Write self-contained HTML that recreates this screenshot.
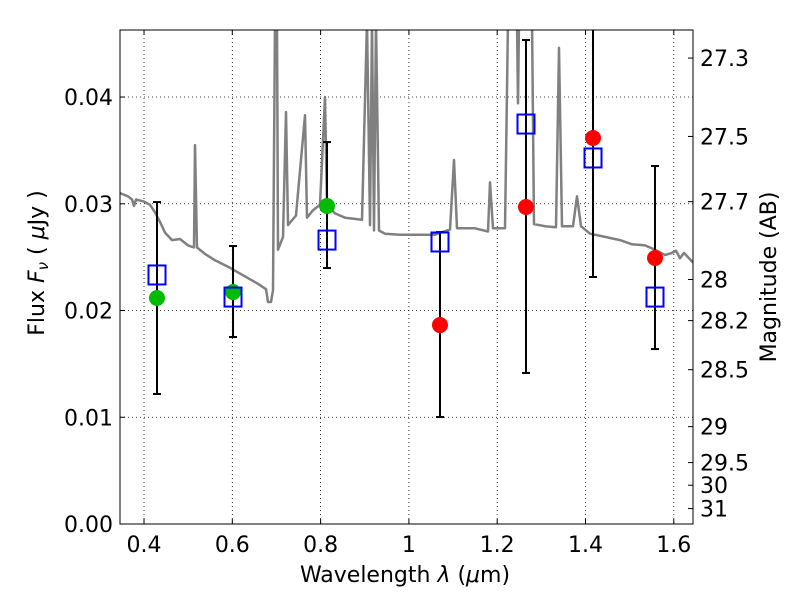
<!DOCTYPE html>
<html><head><meta charset="utf-8"><style>
body{margin:0;background:#fff}
svg text{font-family:"DejaVu Sans","Liberation Sans",sans-serif;fill:#000}
</style></head><body>
<svg id="c" width="800" height="600" xmlns="http://www.w3.org/2000/svg">
<defs><clipPath id="clip"><rect x="120" y="30" width="573" height="494"/></clipPath></defs>
<g id="grid"></g>
<g id="spec" clip-path="url(#clip)"></g>
<g id="marks" clip-path="url(#clip)"></g>
<rect x="120" y="30" width="573" height="494" fill="none" stroke="#000" stroke-width="1"/>
<g id="axes"></g>
<text x="405" y="582" font-size="22" text-anchor="middle">Wavelength  <tspan font-style="italic">λ</tspan> (<tspan font-style="italic">μ</tspan>m)</text>
<text transform="translate(44,263) rotate(-90)" font-size="22" text-anchor="middle">Flux  <tspan font-style="italic">F</tspan><tspan font-style="italic" font-size="15" dy="4">ν</tspan><tspan dy="-4">  (  </tspan><tspan font-style="italic">μ</tspan>Jy )</text>
<text transform="translate(776,277) rotate(-90)" font-size="22" text-anchor="middle">Magnitude (AB)</text>
</svg>
<script>
const specWave=[0.3456,0.3638,0.3728,0.3773,0.3819,0.4000,0.4136,0.4249,0.4362,0.4476,0.4634,0.4815,0.4997,0.5132,0.5155,0.5200,0.5382,0.5608,0.5948,0.6288,0.6582,0.6763,0.6809,0.6877,0.6922,0.6967,0.7012,0.7035,0.7148,0.7216,0.7262,0.7443,0.7647,0.7692,0.7828,0.7986,0.8100,0.8145,0.8326,0.8553,0.8938,0.9051,0.9119,0.9164,0.9210,0.9255,0.9323,0.9459,0.9799,1.0138,1.0591,1.0931,1.1022,1.1089,1.1497,1.1792,1.1837,1.1905,1.2177,1.2245,1.2449,1.2471,1.2494,1.2788,1.2833,1.3082,1.3332,1.3400,1.3467,1.3716,1.3807,1.3898,1.4102,1.4442,1.4781,1.5053,1.5348,1.5574,1.5801,1.5960,1.6050,1.6141,1.6232,1.6435];
const specFlux=[0.0310,0.0307,0.0304,0.0298,0.0304,0.0302,0.0299,0.0292,0.0283,0.0273,0.0266,0.0267,0.0261,0.0259,0.0355,0.0259,0.0253,0.0247,0.0240,0.0232,0.0225,0.0220,0.0208,0.0208,0.0219,0.0472,0.0472,0.0257,0.0269,0.0386,0.0280,0.0289,0.0383,0.0287,0.0294,0.0299,0.0400,0.0299,0.0291,0.0287,0.0285,0.0472,0.0280,0.0472,0.0275,0.0472,0.0275,0.0272,0.0271,0.0271,0.0271,0.0276,0.0341,0.0277,0.0277,0.0274,0.0320,0.0277,0.0277,0.0472,0.0472,0.0394,0.0472,0.0472,0.0281,0.0279,0.0278,0.0446,0.0279,0.0279,0.0307,0.0279,0.0272,0.0269,0.0266,0.0262,0.0261,0.0257,0.0252,0.0254,0.0256,0.0249,0.0254,0.0245];
const bandWave=[0.4294,0.6016,0.8145,1.0704,1.2652,1.4170,1.5574];
const obsFlux=[0.02117,0.02173,0.02979,0.01864,0.02970,0.03616,0.02492];
const obsColor=['#00bb00','#00bb00','#00bb00','#ff0000','#ff0000','#ff0000','#ff0000'];
const errLo=[0.01218,0.01752,0.02398,0.01002,0.01415,0.02314,0.01639];
const errHi=[0.03016,0.02604,0.03578,0.02735,0.04534,0.0500,0.03354];
const modelFlux=[0.02333,0.02126,0.02660,0.02642,0.03747,0.03429,0.02126];
const xTicks=[0.4,0.6,0.8,1.0,1.2,1.4,1.6];
const xTickLabels=['0.4','0.6','0.8','1','1.2','1.4','1.6'];
const yTicks=[0,0.01,0.02,0.03,0.04];
const yTickLabels=['0.00','0.01','0.02','0.03','0.04'];
const magTicks=[27.3,27.5,27.7,28,28.2,28.5,29,29.5,30,31];

const X0=120,X1=693,Y0=524,Y1=30,xmin=0.3456,xmax=1.6435,ymin=0,ymax=0.04628;
const sx=v=>X0+(v-xmin)/(xmax-xmin)*(X1-X0);
const sy=v=>Y0-(v-ymin)/(ymax-ymin)*(Y0-Y1);
const NS='http://www.w3.org/2000/svg';
function mk(tag,attrs,parent){const e=document.createElementNS(NS,tag);for(const k in attrs)e.setAttribute(k,attrs[k]);parent.appendChild(e);return e;}
const grid=document.getElementById('grid'),axes=document.getElementById('axes'),spec=document.getElementById('spec'),marks=document.getElementById('marks');

xTicks.forEach((t,i)=>{const x=sx(t);
 const g=mk('line',{x1:x,x2:x,y1:Y1,y2:Y0,stroke:'#000','stroke-width':0.8,'stroke-dasharray':'1,3'},grid);
 
 
 mk('line',{x1:x,x2:x,y1:Y0,y2:Y0-5,stroke:'#000'},axes);
 mk('line',{x1:x,x2:x,y1:Y1,y2:Y1+5,stroke:'#000'},axes);
 const l=mk('text',{x:x,y:Y0+28,'font-size':22,'text-anchor':'middle'},axes);l.textContent=xTickLabels[i];
 
 
});
yTicks.forEach((t,i)=>{const y=sy(t);
 const g=mk('line',{x1:X0,x2:X1,y1:y,y2:y,stroke:'#000','stroke-width':0.8,'stroke-dasharray':'1,3'},grid);
 
 
 mk('line',{x1:X0,x2:X0+5,y1:y,y2:y,stroke:'#000'},axes);
 const l=mk('text',{x:X0-7,y:y+8,'font-size':22,'text-anchor':'end'},axes);l.textContent=yTickLabels[i];
 
 
});
magTicks.forEach(m=>{const f=Math.pow(10,(23.9-m)/2.5);const y=sy(f);
 mk('line',{x1:X1,x2:X1-5,y1:y,y2:y,stroke:'#000'},axes);
 const l=mk('text',{x:X1+7,y:y+8,'font-size':22},axes);l.textContent=String(m);
 
 
});
let d='';specWave.forEach((w,i)=>{d+=(i?'L':'M')+sx(w).toFixed(1)+','+sy(specFlux[i]).toFixed(1);});
const p=mk('path',{d:d,fill:'none',stroke:'#808080','stroke-width':2.5,'stroke-linejoin':'round'},spec);



bandWave.forEach((w,i)=>{const x=sx(w);
 const eb=mk('g',{},marks);
 
 
 mk('line',{x1:x,x2:x,y1:sy(errLo[i]),y2:sy(errHi[i]),stroke:'#000','stroke-width':2},eb);
 mk('line',{x1:x-4,x2:x+4,y1:sy(errLo[i]),y2:sy(errLo[i]),stroke:'#000','stroke-width':2},eb);
 mk('line',{x1:x-4,x2:x+4,y1:sy(errHi[i]),y2:sy(errHi[i]),stroke:'#000','stroke-width':2},eb);
});
bandWave.forEach((w,i)=>{const x=sx(w);
 const c=mk('circle',{cx:x,cy:sy(obsFlux[i]),r:8,fill:obsColor[i]},marks);
 
 
 const s=mk('rect',{x:x-8.5,y:sy(modelFlux[i])-9.5,width:17,height:19,fill:'none',stroke:'#0000ff','stroke-width':2},marks);
 
 
});
</script>
</body></html>
